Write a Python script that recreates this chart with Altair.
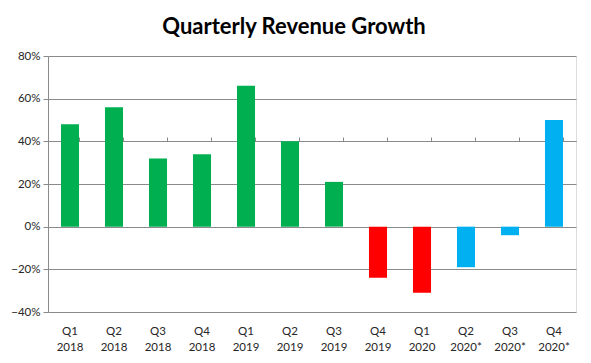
import altair as alt
import pandas as pd

quarters = ["Q1 2018", "Q2 2018", "Q3 2018", "Q4 2018", "Q1 2019", "Q2 2019",
            "Q3 2019", "Q4 2019", "Q1 2020", "Q2 2020*", "Q3 2020*", "Q4 2020*"]
growth = [0.48, 0.56, 0.32, 0.34, 0.66, 0.40, 0.21, -0.24, -0.31, -0.19, -0.04, 0.50]
groups = ["Actual"] * 7 + ["Decline"] * 2 + ["Projected"] * 3
group_domain = ["Actual", "Decline", "Projected"]
group_colors = ["#00B050", "#FF0000", "#00B0F0"]
y_ticks = [-0.4, -0.2, 0.0, 0.2, 0.4, 0.6, 0.8]

df = pd.DataFrame({"quarter": quarters, "growth": growth, "group": groups})

FONT = "Lato"
GRID = "#8a8a8a"
LABEL = "#262626"

xscale = alt.Scale(paddingInner=0.59, paddingOuter=0.295)

bars = alt.Chart(df).mark_bar().encode(
    x=alt.X("quarter:N", sort=quarters, scale=xscale,
            axis=alt.Axis(title=None, labelAngle=0, domain=False, ticks=False,
                          labelExpr="split(datum.value, ' ')", labelPadding=13,
                          labelFontSize=11.5, labelColor=LABEL, labelFont=FONT,
                          labelLineHeight=16, grid=False)),
    y=alt.Y("growth:Q", scale=alt.Scale(domain=[-0.4, 0.8], nice=False, zero=False),
            axis=alt.Axis(title=None, format=".0%", values=y_ticks, grid=True,
                          gridColor=GRID, domainColor=GRID, tickColor=GRID,
                          tickSize=5, labelPadding=3, labelFontSize=11.5,
                          labelColor=LABEL, labelFont=FONT)),
    color=alt.Color("group:N", scale=alt.Scale(domain=group_domain, range=group_colors),
                    legend=None),
)

zero_axis = alt.Chart(df).mark_rule(opacity=0).encode(
    x=alt.X("quarter:N", sort=quarters, scale=xscale,
            axis=alt.Axis(title=None, labels=False, domain=True, ticks=True,
                          tickBand="extent", offset=-85, domainColor=GRID,
                          tickColor=GRID, tickSize=4, grid=False)),
)

chart = alt.layer(bars, zero_axis).resolve_axis(x="independent").properties(
    width=528, height=256,
    autosize=alt.AutoSizeParams(type="none"),
    padding={"left": 40, "top": 48, "right": 7, "bottom": 43},
    title=alt.Title("Quarterly Revenue Growth", fontSize=22, font=FONT,
                    fontWeight="bold", color="black", offset=11, dx=-18),
).configure_view(stroke=None).configure(background="white")

chart.save("out.html", embed_options={"renderer": "svg", "actions": False})
